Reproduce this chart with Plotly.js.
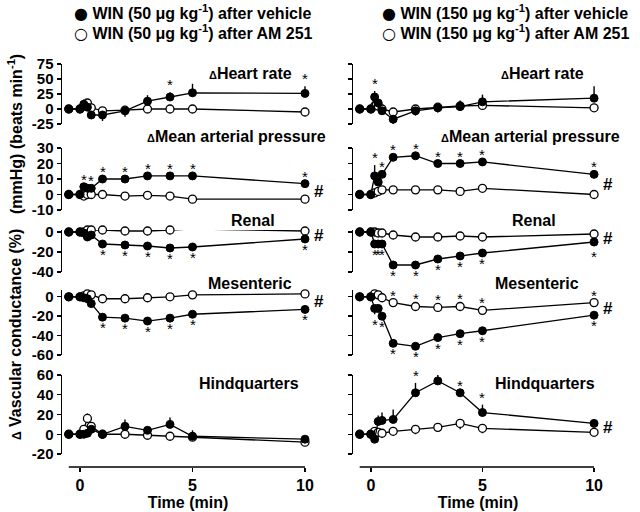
<!DOCTYPE html>
<html><head><meta charset="utf-8">
<script src="https://cdn.plot.ly/plotly-3.0.1.min.js"></script>
<style>html,body{margin:0;padding:0;background:#fff}#chart{width:640px;height:512px}</style>
</head><body><div id="chart"></div><script>
// ---------- data ----------
const timeMin = [-0.5, 0, 0.17, 0.33, 0.5, 1, 2, 3, 4, 5, 10];

// WIN 50 ug/kg (left column)
const hr50Veh      = [0, 0, 8, 3, -10, -10, -3, 13, 20, 27, 26];
const hr50VehErr   = [0, 0, 8, 0, -5, -10, -10, 10, 8, 15, 12];
const hr50VehStar  = [0, 0, 0, 0, 0, 0, 0, 0, 1, 0, 1];
const hr50Am       = [0, 0, 5, 10, 2, -3, -2, 0, 0, 0, -5];
const hr50AmErr    = [0, 0, 0, 5, 0, 0, 0, 0, 0, 0, 0];

const map50Veh     = [0, 0, 5, 4, 4, 10, 10, 12, 12, 12, 7];
const map50VehErr  = [0, 0, 0, 0, 0, 0, 0, 0, 0, 0, 0];
const map50VehStar = [0, 0, 1, 0, 1, 1, 1, 1, 1, 1, 1];
const map50Am      = [0, 0, -1, 0, 0, 0, -1, -0.5, -1, -3, -3];

const ren50Veh     = [0, 0, -1, -5, -3, -12, -13, -14, -16, -15, -7];
const ren50VehErr  = [0, 0, 0, 0, 0, 0, 0, 0, 0, 0, 0];
const ren50VehStar = [0, 0, 0, 0, 0, -1, -1, -1, -1, -1, -1];
const ren50Am      = [0, 0, 0, 2, 2, 2, 1, 1, 2, 3, 1];

const mes50Veh     = [0, 0, -1, -2, -7, -21, -22, -25, -22, -18, -13];
const mes50VehErr  = [0, 0, 0, 0, 0, 0, 0, 0, 0, 0, 0];
const mes50VehStar = [0, 0, 0, 0, 0, -1, -1, -1, -1, -1, -1];
const mes50Am      = [0, 0, 1, 3, 2, -2, -2, -1, 0, 2, 3];

const hq50Veh      = [0, 0, 0, 1, 5, 0, 8, 4, 10, -2, -5];
const hq50VehErr   = [0, 0, 0, 0, 0, 0, 7, 0, 7, 6, 0];
const hq50Am       = [0, 0, 5, 16, 8, 0, 0, -1, -2, -3, -8];
const hq50AmErr    = [0, 0, 0, 5, 0, 0, 0, 0, 0, 0, 0];

// WIN 150 ug/kg (right column)
const hr150Veh      = [0, 0, 20, 10, -3, -17, -3, 2, 4, 12, 18];
const hr150VehErr   = [0, 0, 10, 0, 0, -12, -8, -8, 10, 12, 20];
const hr150VehStar  = [0, 0, 1, 0, 0, 0, 0, 0, 0, 0, 0];
const hr150Am       = [0, 0, 5, 5, 0, -5, 0, 3, 5, 6, 2];

const map150Veh     = [0, 0, 12, 8, 13, 24, 25, 20, 20, 21, 13];
const map150VehErr  = [0, 0, 7, 0, 0, 0, 0, 0, 0, 0, 0];
const map150VehStar = [0, 0, 1, 0, 1, 1, 1, 1, 1, 1, 1];
const map150Am      = [0, 0, 1, 2, 3, 3, 3, 3, 2, 4, 0];

const ren150Veh     = [0, 0, -12, -12, -12, -33, -33, -27, -24, -21, -10];
const ren150VehErr  = [0, 0, 0, 0, 0, 0, 0, 0, 0, 0, -4];
const ren150VehStar = [0, 0, -1, -1, -1, -1, -1, -1, -1, -1, -1];
const ren150Am      = [0, 0, 0, -1, -1, -3, -5, -5, -4, -5, -2];

const mes150Veh     = [0, 0, -12, -12, -20, -48, -51, -42, -38, -35, -19];
const mes150VehErr  = [0, 0, -6, 0, 0, 0, 0, 0, 0, 0, 0];
const mes150VehStar = [0, 0, -1, 0, -1, -1, -1, -1, -1, -1, -1];
const mes150Am      = [0, 0, 3, 2, -1, -6, -10, -11, -10, -14, -6];
const mes150AmStar  = [0, 0, 0, 0, 0, 1, 1, 1, 1, 1, 1];

const hq150Veh      = [0, 0, -5, 13, 14, 15, 42, 54, 42, 22, 11];
const hq150VehErr   = [0, 0, 0, 6, 8, 10, 10, 8, 0, 8, 0];
const hq150VehStar  = [0, 0, 0, 0, 0, 0, 1, 1, 1, 1, 0];
const hq150Am       = [0, 0, 3, 2, 1, 3, 5, 7, 11, 6, 2];
const hq150AmErr    = [0, 0, 0, 0, 0, 0, -5, 0, -6, -5, 0];

const legendLeft  = ['WIN (50 μg kg<sup>-1</sup>) after vehicle', 'WIN (50 μg kg<sup>-1</sup>) after AM 251'];
const legendRight = ['WIN (150 μg kg<sup>-1</sup>) after vehicle', 'WIN (150 μg kg<sup>-1</sup>) after AM 251'];
const panelTitles = ['<span style="font-size:11px">Δ</span>Heart rate', '<span style="font-size:11px">Δ</span>Mean arterial pressure', 'Renal', 'Mesenteric', 'Hindquarters'];
const xTicks = [0, 5, 10];
const yTickSets = [[-25, 0, 25, 50, 75], [-10, 0, 10, 20, 30], [-40, -20, 0], [-60, -40, -20, 0], [-20, 0, 20, 40, 60]];

// ---------- layout helpers ----------
const W = 640, H = 512;
const fx = p => p / W, fy = p => 1 - p / H;
const FONT = 'Liberation Sans, Arial, sans-serif';

const rows = [
  {bot:124, top:64,  range:[-25,75], ty:73},
  {bot:210, top:148, range:[-10,30], ty:136},
  {bot:272, top:230, range:[-40,2],  ty:220},
  {bot:355, top:290, range:[-60,7],  ty:283},
  {bot:454, top:375, range:[-20,60], ty:383}
];
const cols = [
  {x0:62, x1:314, titleX:[250,236,253,250,249],
   panels:[
    {veh:hr50Veh, vehErr:hr50VehErr, vehStar:hr50VehStar, am:hr50Am, amErr:hr50AmErr, hash:false},
    {veh:map50Veh, vehErr:map50VehErr, vehStar:map50VehStar, am:map50Am, hash:true},
    {veh:ren50Veh, vehErr:ren50VehErr, vehStar:ren50VehStar, am:ren50Am, hash:true},
    {veh:mes50Veh, vehErr:mes50VehErr, vehStar:mes50VehStar, am:mes50Am, hash:true},
    {veh:hq50Veh, vehErr:hq50VehErr, am:hq50Am, amErr:hq50AmErr, hash:false}
   ], legend: legendLeft, legX:72},
  {x0:353, x1:603, titleX:[542,530,534,537,545],
   panels:[
    {veh:hr150Veh, vehErr:hr150VehErr, vehStar:hr150VehStar, am:hr150Am, hash:false},
    {veh:map150Veh, vehErr:map150VehErr, vehStar:map150VehStar, am:map150Am, hash:true},
    {veh:ren150Veh, vehErr:ren150VehErr, vehStar:ren150VehStar, am:ren150Am, hash:true},
    {veh:mes150Veh, vehErr:mes150VehErr, vehStar:mes150VehStar, am:mes150Am, amStar:mes150AmStar, hash:true},
    {veh:hq150Veh, vehErr:hq150VehErr, vehStar:hq150VehStar, am:hq150Am, amErr:hq150AmErr, hash:true}
   ], legend: legendRight, legX:380}
];

const traces = [], annotations = [], shapes = [];
const layout = {
  width: W, height: H, margin:{l:0,r:0,t:0,b:0},
  paper_bgcolor:'#fff', plot_bgcolor:'rgba(0,0,0,0)',
  showlegend:false, font:{family:FONT, color:'#000', weight:'bold'},
  annotations, shapes
};

function errObj(err){
  const e = err || timeMin.map(() => 0);
  return {type:'data', symmetric:false, array:e.map(v => v > 0 ? v : 0),
          arrayminus:e.map(v => v < 0 ? -v : 0), color:'#000', thickness:1.4, width:0};
}
function addStars(xa, ya, vals, err, stars){
  if (!stars) return;
  stars.forEach((s, i) => {
    if (!s) return;
    const e = err ? err[i] : 0;
    const tip = (Math.sign(e) === s) ? vals[i] + e : vals[i];
    annotations.push({x:timeMin[i], y:tip, xref:xa, yref:ya, text:'*', showarrow:false,
      xanchor:'center', yanchor: s > 0 ? 'bottom' : 'top', yshift: s > 0 ? -3 : 0,
      font:{family:FONT, size:15, color:'#000', weight:'normal'}});
  });
}

cols.forEach((c, ci) => {
  const xName = ci === 0 ? 'x' : 'x2';
  const xKey = ci === 0 ? 'xaxis' : 'xaxis2';
  layout[xKey] = {domain:[fx(c.x0), fx(c.x1)], range:[-0.8, 10.4], anchor:'free', position:fy(467),
    showline:false, showgrid:false, zeroline:false, ticks:'outside', ticklen:4, tickwidth:1.4, tickcolor:'#000',
    tickvals:xTicks, tickfont:{family:FONT, size:16, weight:'bold'}, automargin:false,
    title:{text:'Time (min)', font:{family:FONT, size:16, weight:'bold'}, standoff:2}};
  shapes.push({type:'line', xref:xName, yref:'paper', x0:timeMin[0], x1:timeMin[timeMin.length-1],
    y0:fy(467), y1:fy(467), line:{color:'#000', width:1.5}});

  c.panels.forEach((p, ri) => {
    const r = rows[ri];
    const n = ci * 5 + ri + 1;
    const yName = n === 1 ? 'y' : 'y' + n;
    const yKey = n === 1 ? 'yaxis' : 'yaxis' + n;
    layout[yKey] = {domain:[fy(r.bot), fy(r.top)], range:r.range, anchor:xName,
      showline:true, linewidth:1.5, linecolor:'#000', showgrid:false, zeroline:false,
      ticks:'outside', ticklen:4, tickwidth:1.4, tickcolor:'#000',
      tickmode:'array', tickvals:yTickSets[ri], ticktext:yTickSets[ri].map(v => String(v)),
      showticklabels: ci === 0, tickfont:{family:FONT, size:15, weight:'bold'}, automargin:false};

    traces.push({x:timeMin, y:p.am, xaxis:xName, yaxis:yName, type:'scatter', mode:'lines+markers',
      cliponaxis:false, line:{color:'#000', width:1.3},
      marker:{symbol:'circle', size:8, color:'#fff', line:{color:'#000', width:1.3}},
      error_y:errObj(p.amErr), name:c.legend[1]});
    traces.push({x:timeMin, y:p.veh, xaxis:xName, yaxis:yName, type:'scatter', mode:'lines+markers',
      cliponaxis:false, line:{color:'#000', width:1.3},
      marker:{symbol:'circle', size:8, color:'#000', line:{color:'#000', width:1}},
      error_y:errObj(p.vehErr), name:c.legend[0]});

    addStars(xName, yName, p.veh, p.vehErr, p.vehStar);
    addStars(xName, yName, p.am, p.amErr, p.amStar);

    if (p.hash) {
      const last = timeMin.length - 1;
      annotations.push({x:timeMin[last], y:(p.veh[last] + p.am[last]) / 2, xref:xName, yref:yName,
        text:'#', showarrow:false, xanchor:'left', yanchor:'middle', xshift:7,
        font:{family:FONT, size:17, color:'#000', weight:'bold'}});
    }
    annotations.push({x:fx(c.titleX[ri]), y:fy(r.ty), xref:'paper', yref:'paper', text:panelTitles[ri],
      showarrow:false, xanchor:'center', yanchor:'middle', font:{family:FONT, size:16, color:'#000', weight:'bold'}});
  });

  // legend as text annotations
  annotations.push({x:fx(c.legX), y:fy(12), xref:'paper', yref:'paper', xanchor:'left', yanchor:'middle',
    showarrow:false, text:'<span style="font-family:DejaVu Sans">●</span> ' + c.legend[0],
    font:{family:FONT, size:16, color:'#000', weight:'bold'}});
  annotations.push({x:fx(c.legX), y:fy(32), xref:'paper', yref:'paper', xanchor:'left', yanchor:'middle',
    showarrow:false, text:'<span style="font-family:DejaVu Sans">○</span> ' + c.legend[1],
    font:{family:FONT, size:16, color:'#000', weight:'bold'}});
});

// y-axis titles
annotations.push({x:fx(15), y:fy(335), xref:'paper', yref:'paper', textangle:-90, showarrow:false,
  xanchor:'center', yanchor:'middle',
  text:'<span style="font-size:12px">Δ</span> Vascular conductance (%)', font:{family:FONT, size:16, color:'#000', weight:'bold'}});
annotations.push({x:fx(15), y:fy(134), xref:'paper', yref:'paper', textangle:-90, showarrow:false,
  xanchor:'center', yanchor:'middle',
  text:'(mmHg) (beats min<sup>-1</sup>)', font:{family:FONT, size:16, color:'#000', weight:'bold'}});

Plotly.newPlot('chart', traces, layout, {staticPlot:true, displayModeBar:false});
</script></body></html>
